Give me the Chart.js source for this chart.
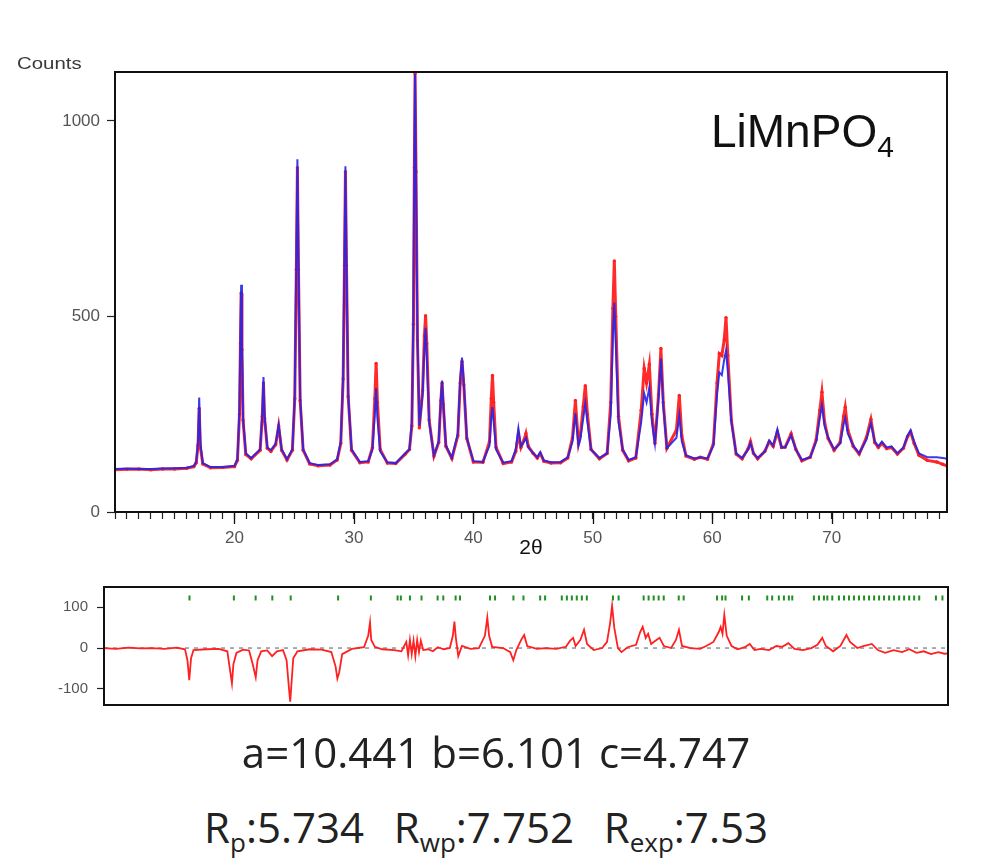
<!DOCTYPE html>
<html>
<head>
<meta charset="utf-8">
<script src="https://cdn.jsdelivr.net/npm/chart.js@4.4.1/dist/chart.umd.min.js"></script>
<style>
  body { margin: 0; background: #fff; }
  #wrap { position: relative; width: 982px; height: 861px; overflow: hidden; }
  canvas { position: absolute; left: 0; }
  .txt { position: absolute; white-space: pre; line-height: 1; }
</style>
</head>
<body>
<div id="wrap">
  <canvas id="main" width="982" height="565" style="top:0"></canvas>
  <canvas id="diff" width="982" height="165" style="top:565px"></canvas>

  <div class="txt" style="left:17px;top:54px;font:17px 'Liberation Sans',Arial,sans-serif;color:#3a3a3a;transform:scaleX(1.2);transform-origin:left top">Counts</div>
  <div class="txt" style="left:711px;top:104px;font:46px 'Liberation Sans',Arial,sans-serif;color:#111">LiMnPO<span style="font-size:30px;position:relative;top:10px">4</span></div>

  <div class="txt" style="left:0;width:992px;text-align:center;top:723px;font:42px 'Open Sans',sans-serif;color:#222">a=10.441 b=6.101 c=4.747</div>
  <div class="txt" style="left:0;width:972px;text-align:center;top:798px;font:42px 'Open Sans',sans-serif;color:#222;word-spacing:4px">R<span style="font-size:26px;position:relative;top:9px">p</span>:5.734  R<span style="font-size:26px;position:relative;top:9px">wp</span>:7.752  R<span style="font-size:26px;position:relative;top:9px">exp</span>:7.53</div>
</div>

<script>
// 2-theta positions of the profile
const twoTheta = [
  10.0, 11.0, 12.0, 13.0, 14.0, 15.0, 16.0, 16.6,
  16.8, 16.95, 17.05, 17.15, 17.35, 18.0, 19.0, 20.0,
  20.25, 20.42, 20.5, 20.56, 20.63, 20.72, 20.95, 21.4,
  22.15, 22.33, 22.43, 22.52, 22.75, 23.05, 23.45, 23.7, 23.95, 24.4,
  24.85, 25.05, 25.18, 25.27, 25.36, 25.5, 25.75, 26.3, 27.0, 28.0, 28.6,
  28.9, 29.1, 29.21, 29.29, 29.38, 29.52, 29.8, 30.5, 31.2,
  31.55, 31.75, 31.86, 31.97, 32.2, 32.8, 33.5, 34.3, 34.65,
  34.85, 34.98, 35.06, 35.12, 35.2, 35.32, 35.48,
  35.75, 35.9, 36.0, 36.1, 36.3, 36.7,
  37.1, 37.28, 37.38, 37.48, 37.7, 38.2,
  38.7, 38.9, 39.05, 39.2, 39.45, 40.0, 40.8,
  41.35, 41.5, 41.6, 41.7, 41.9, 42.5, 43.2,
  43.55, 43.77, 43.98, 44.25, 44.4, 44.6, 45.0, 45.35, 45.6, 45.9, 46.5, 47.3, 47.9,
  48.3, 48.54, 48.8, 48.95, 49.2, 49.37, 49.55, 49.85, 50.55, 51.2,
  51.5, 51.68, 51.8, 51.92, 52.15, 52.5, 53.0, 53.6,
  54.05, 54.3, 54.5, 54.73, 54.95, 55.2, 55.5, 55.7, 55.9, 56.2,
  57.0, 57.24, 57.45, 57.8, 58.5, 59.0, 59.6, 60.1,
  60.4, 60.59, 60.8, 61.0, 61.15, 61.3, 61.6, 62.0, 62.5,
  63.0, 63.2, 63.45, 63.8, 64.4, 64.77, 65.1, 65.45, 65.8, 66.1, 66.6, 67.0, 67.5, 68.2,
  68.7, 69.0, 69.18, 69.4, 69.7, 70.2, 70.7, 71.0, 71.13, 71.35, 71.8, 72.3, 72.9,
  73.28, 73.6, 73.9, 74.2, 74.6, 75.0, 75.5, 76.0, 76.35, 76.6, 76.9, 77.3, 78.0, 78.8, 79.3, 79.65
];

// calculated profile (blue line)
const calcCounts = [
  110, 111, 110, 110, 111, 112, 113, 118,
  128, 180, 293, 175, 125, 115, 115, 118,
  135, 260, 450, 581, 430, 240, 150, 138,
  160, 250, 345, 245, 165, 158, 175, 222, 160, 135,
  160, 300, 650, 902, 640, 290, 160, 125, 120, 122, 135,
  180, 350, 650, 884, 640, 300, 160, 128, 130,
  160, 250, 316, 240, 155, 127, 125, 150, 160,
  230, 500, 900, 1120, 850, 450, 220,
  300, 420, 471, 400, 230, 145,
  180, 290, 336, 280, 170, 138,
  200, 340, 395, 330, 190, 130, 128,
  170, 240, 268, 230, 160, 126, 130,
  160, 214, 168, 180, 190, 165, 151, 140, 153, 132, 127, 128, 140,
  180, 252, 170, 185, 240, 277, 230, 160, 138, 150,
  250, 450, 535, 430, 230, 160, 133, 140,
  230, 303, 280, 318, 230, 175, 290, 392, 270, 163,
  190, 247, 180, 145, 137, 140, 137, 170,
  300, 357, 350, 390, 413, 360, 230, 150, 138,
  160, 176, 150, 138, 155, 183, 170, 211, 165, 165, 196, 160, 133, 140,
  180, 240, 273, 220, 190, 160, 175, 225, 240, 200, 170, 150, 185,
  227, 180, 168, 180, 165, 168, 150, 165, 195, 209, 180, 150, 140, 140, 138, 136
];

// observed counts (red dots)
const obsCounts = [
  108, 109, 110, 108, 110, 110, 112, 116,
  126, 170, 265, 165, 123, 113, 114, 116,
  132, 250, 430, 560, 415, 235, 147, 136,
  158, 245, 330, 240, 163, 155, 172, 220, 158, 133,
  158, 290, 620, 880, 620, 285, 158, 123, 118, 120, 133,
  175, 340, 630, 870, 630, 295, 158, 126, 128,
  165, 290, 380, 280, 160, 125, 124, 148, 160,
  220, 480, 880, 1122, 870, 440, 215,
  310, 450, 502, 430, 235, 143,
  178, 285, 330, 275, 168, 137,
  195, 330, 385, 325, 188, 128, 127,
  180, 290, 349, 280, 165, 124, 128,
  155, 200, 165, 185, 201, 168, 150, 138, 150, 130, 125, 126, 138,
  190, 285, 175, 195, 270, 323, 250, 160, 136, 150,
  280, 520, 642, 500, 245, 158, 131, 138,
  260, 367, 330, 377, 250, 175, 300, 418, 280, 163,
  210, 298, 195, 143, 135, 140, 135, 175,
  330, 405, 400, 440, 497, 400, 235, 148, 136,
  162, 180, 150, 136, 155, 180, 168, 205, 165, 166, 200, 160, 131, 140,
  185, 260, 306, 230, 188, 158, 178, 245, 268, 210, 168, 148, 190,
  237, 178, 165, 175, 162, 165, 148, 163, 193, 205, 175, 145, 132, 128, 122, 118
];

// difference curve (lower panel)
const diffTheta = [
  10.0, 11.0, 12.0, 13.0, 14.0, 15.0, 16.0, 16.7, 16.9, 17.05, 17.2, 17.4,
  18.5, 19.5, 20.2, 20.45, 20.58, 20.7, 20.95, 21.5, 22.0, 22.3, 22.55, 22.7,
  23.0, 23.5, 23.9, 24.3, 24.8, 25.1, 25.3, 25.4, 25.5, 25.65, 26.0, 27.0,
  28.0, 28.8, 29.15, 29.3, 29.45, 29.7, 30.5, 31.5, 31.85, 32.0, 32.1, 32.4,
  33.0, 34.0, 34.6, 35.0, 35.15, 35.3, 35.45, 35.6, 35.75, 35.9, 36.05, 36.2,
  36.4, 36.8, 37.2, 37.6, 38.1, 38.6, 38.85, 38.98, 39.1, 39.3, 39.6, 40.3,
  41.0, 41.5, 41.7, 41.85, 42.1, 43.0, 43.6, 43.85, 44.1, 44.5, 44.75, 45.0,
  45.8, 46.5, 47.4, 48.2, 48.55, 48.8, 49.0, 49.4, 49.7, 49.95, 50.5, 51.2,
  51.6, 51.85, 52.02, 52.2, 52.5, 52.8, 53.3, 54.0, 54.35, 54.55, 54.8, 55.0,
  55.25, 55.6, 55.95, 56.3, 56.9, 57.3, 57.55, 57.8, 58.5, 59.3, 59.8, 60.4,
  60.85, 61.0, 61.15, 61.3, 61.5, 61.9, 62.4, 63.0, 63.4, 63.8, 64.3, 65.0,
  65.6, 66.1, 66.6, 67.1, 67.8, 68.5, 69.0, 69.4, 69.7, 70.3, 70.9, 71.4,
  71.7, 72.3, 72.8, 73.5, 74.0, 74.6, 75.3, 76.0, 76.6, 77.2, 77.8, 78.4,
  79.0, 79.5, 79.8
];
const diffCounts = [
  0, -2, 1, -1, 0, -2, 1, -3, -30, -79, -25, -5,
  -3, -2, -8, -60, -87, -40, -12, -4, -6, -40, -72, -30,
  -8, -6, -20, -8, -5, -30, -100, -132, -90, -25, -8, -3,
  -4, -10, -45, -75, -60, -15, -2, 2, 30, 63, 20, 3,
  -3, -5, -8, 15, -18, 20, -15, 18, -20, 20, -10, 18,
  -5, -3, -8, 2, -3, 0, 30, 65, 25, -20, 5, -2,
  0, 30, 75, 30, 3, 0, -10, -30, -5, 20, 32, 5,
  -2, 0, -2, 3, 18, 25, 5, 20, 45, 10, -5, 0,
  15, 60, 104, 50, 0, -10, 2, 8, 40, 52, 25, 35,
  10, 18, 25, 5, 0, 20, 45, 5, 0, -2, 5, 15,
  40, 52, 35, 81, 30, 5, -3, 2, 10, -5, -2, -5,
  5, 3, 12, -2, -5, 0, 8, 25, 5, -8, 5, 32,
  15, 0, 5, 10, -5, -12, -5, -10, -3, -12, -8, -15,
  -10, -14, -13
];

// reflection positions (green tick marks)
const reflectionTheta = [
  17.07, 20.74, 22.54, 23.92, 25.44, 29.36, 32.07, 34.28, 34.55, 35.3, 36.26,
  37.59, 38.06, 39.08, 39.44, 41.92, 42.34, 43.86, 44.69, 46.07, 46.48,
  47.86, 48.28, 48.69, 49.1, 49.52, 49.93, 52.09, 52.56, 54.63, 55.04, 55.46,
  55.87, 56.29, 57.53, 57.94, 60.7, 61.12, 61.4, 62.77, 63.33, 64.85, 65.26,
  65.81, 66.23, 66.64, 66.92, 68.71, 69.13, 69.54, 69.82, 70.23, 70.78, 71.2,
  71.61, 72.03, 72.44, 72.86, 73.27, 73.69, 74.1, 74.51, 74.93, 75.34, 75.76,
  76.17, 76.59, 77.0, 77.42, 78.8, 79.34
];

const xTickLabels = [20, 30, 40, 50, 60, 70];
const yTickLabels = [0, 500, 1000];
const diffTickLabels = [-100, 0, 100];

if (calcCounts.length !== twoTheta.length || obsCounts.length !== twoTheta.length) {
  throw new Error('profile length mismatch ' + twoTheta.length + ' ' + calcCounts.length + ' ' + obsCounts.length);
}
if (diffCounts.length !== diffTheta.length) {
  throw new Error('diff length mismatch ' + diffTheta.length + ' ' + diffCounts.length);
}

Chart.defaults.font.family = "'Liberation Sans', Arial, sans-serif";
Chart.defaults.color = '#555';

const frame = {
  id: 'frame',
  afterDraw(chart, args, opts) {
    const { ctx, chartArea: a } = chart;
    ctx.save();
    ctx.strokeStyle = '#111';
    ctx.lineWidth = 2;
    ctx.strokeRect(a.left, a.top, a.right - a.left, a.bottom - a.top);
    if (opts.major) {
      const xs = chart.scales.x;
      ctx.lineWidth = 1.3;
      opts.major.forEach(v => {
        const px = Math.round(xs.getPixelForValue(v)) + 0.5;
        ctx.beginPath();
        ctx.moveTo(px, a.bottom);
        ctx.lineTo(px, a.bottom + 12);
        ctx.stroke();
      });
    }
    ctx.restore();
  }
};

const pts = (xs, ys) => xs.map((x, i) => ({ x, y: ys[i] }));

new Chart(document.getElementById('main'), {
  type: 'line',
  data: {
    datasets: [
      {
        label: 'Calculated',
        data: pts(twoTheta, calcCounts),
        borderColor: 'rgba(35,35,235,0.9)',
        borderWidth: 2,
        pointRadius: 0,
        order: 0
      },
      {
        label: 'Observed',
        data: pts(twoTheta, obsCounts),
        borderColor: '#ff2a2a',
        backgroundColor: '#ff2020',
        borderWidth: 3,
        pointRadius: 1.7,
        pointBorderWidth: 0,
        order: 1
      }
    ]
  },
  options: {
    responsive: false,
    animation: false,
    layout: { padding: { top: 72, right: 35, left: 0, bottom: 0 } },
    plugins: {
      legend: { display: false },
      tooltip: { enabled: false },
      frame: { major: xTickLabels }
    },
    scales: {
      x: {
        type: 'linear',
        min: 10,
        max: 79.65,
        afterFit: s => { s.height = 53; },
        border: { display: false },
        grid: { drawOnChartArea: false, tickLength: 7, tickColor: '#222', tickWidth: 1.2 },
        ticks: {
          stepSize: 1,
          autoSkip: false,
          maxRotation: 0,
          includeBounds: false,
          padding: 9,
          font: { size: 17 },
          color: '#555',
          callback: v => xTickLabels.includes(v) ? String(v) : ''
        },
        title: {
          display: true,
          text: '2θ',
          color: '#111',
          font: { size: 21 },
          padding: { top: 0, bottom: 4 }
        }
      },
      y: {
        min: 0,
        max: 1125,
        afterFit: s => { s.width = 115; },
        afterBuildTicks: s => { s.ticks = yTickLabels.map(v => ({ value: v })); },
        border: { display: false },
        grid: { drawOnChartArea: false, tickLength: 8, tickColor: '#222', tickWidth: 1.2 },
        ticks: { padding: 7, font: { size: 17 }, color: '#555', callback: v => String(v) }
      }
    }
  },
  plugins: [frame]
});

const reflectionLevel = 123;

new Chart(document.getElementById('diff'), {
  type: 'line',
  data: {
    datasets: [
      {
        label: 'Reflections',
        data: reflectionTheta.map(t => ({ x: t, y: reflectionLevel })),
        showLine: false,
        pointStyle: 'line',
        rotation: 90,
        pointRadius: 2.5,
        borderColor: '#1f8f1f',
        pointBorderWidth: 2,
        order: 0
      },
      {
        label: 'Difference',
        data: pts(diffTheta, diffCounts),
        borderColor: '#ff2020',
        borderWidth: 1.8,
        pointRadius: 0,
        order: 1
      },
      {
        label: 'Zero',
        data: [{ x: 10, y: 0 }, { x: 79.8, y: 0 }],
        borderColor: '#4d5d6d',
        borderWidth: 1,
        borderDash: [4, 5],
        pointRadius: 0,
        order: 2
      }
    ]
  },
  options: {
    responsive: false,
    animation: false,
    layout: { padding: { top: 22, right: 34, left: 0, bottom: 25 } },
    plugins: {
      legend: { display: false },
      tooltip: { enabled: false },
      frame: {}
    },
    scales: {
      x: { type: 'linear', min: 10, max: 79.8, display: false },
      y: {
        min: -140,
        max: 150,
        afterFit: s => { s.width = 104; },
        afterBuildTicks: s => { s.ticks = diffTickLabels.map(v => ({ value: v })); },
        border: { display: false },
        grid: { drawOnChartArea: false, tickLength: 7, tickColor: '#222', tickWidth: 1.2 },
        ticks: { padding: 9, font: { size: 15 }, color: '#555' }
      }
    }
  },
  plugins: [frame]
});
</script>
</body>
</html>
